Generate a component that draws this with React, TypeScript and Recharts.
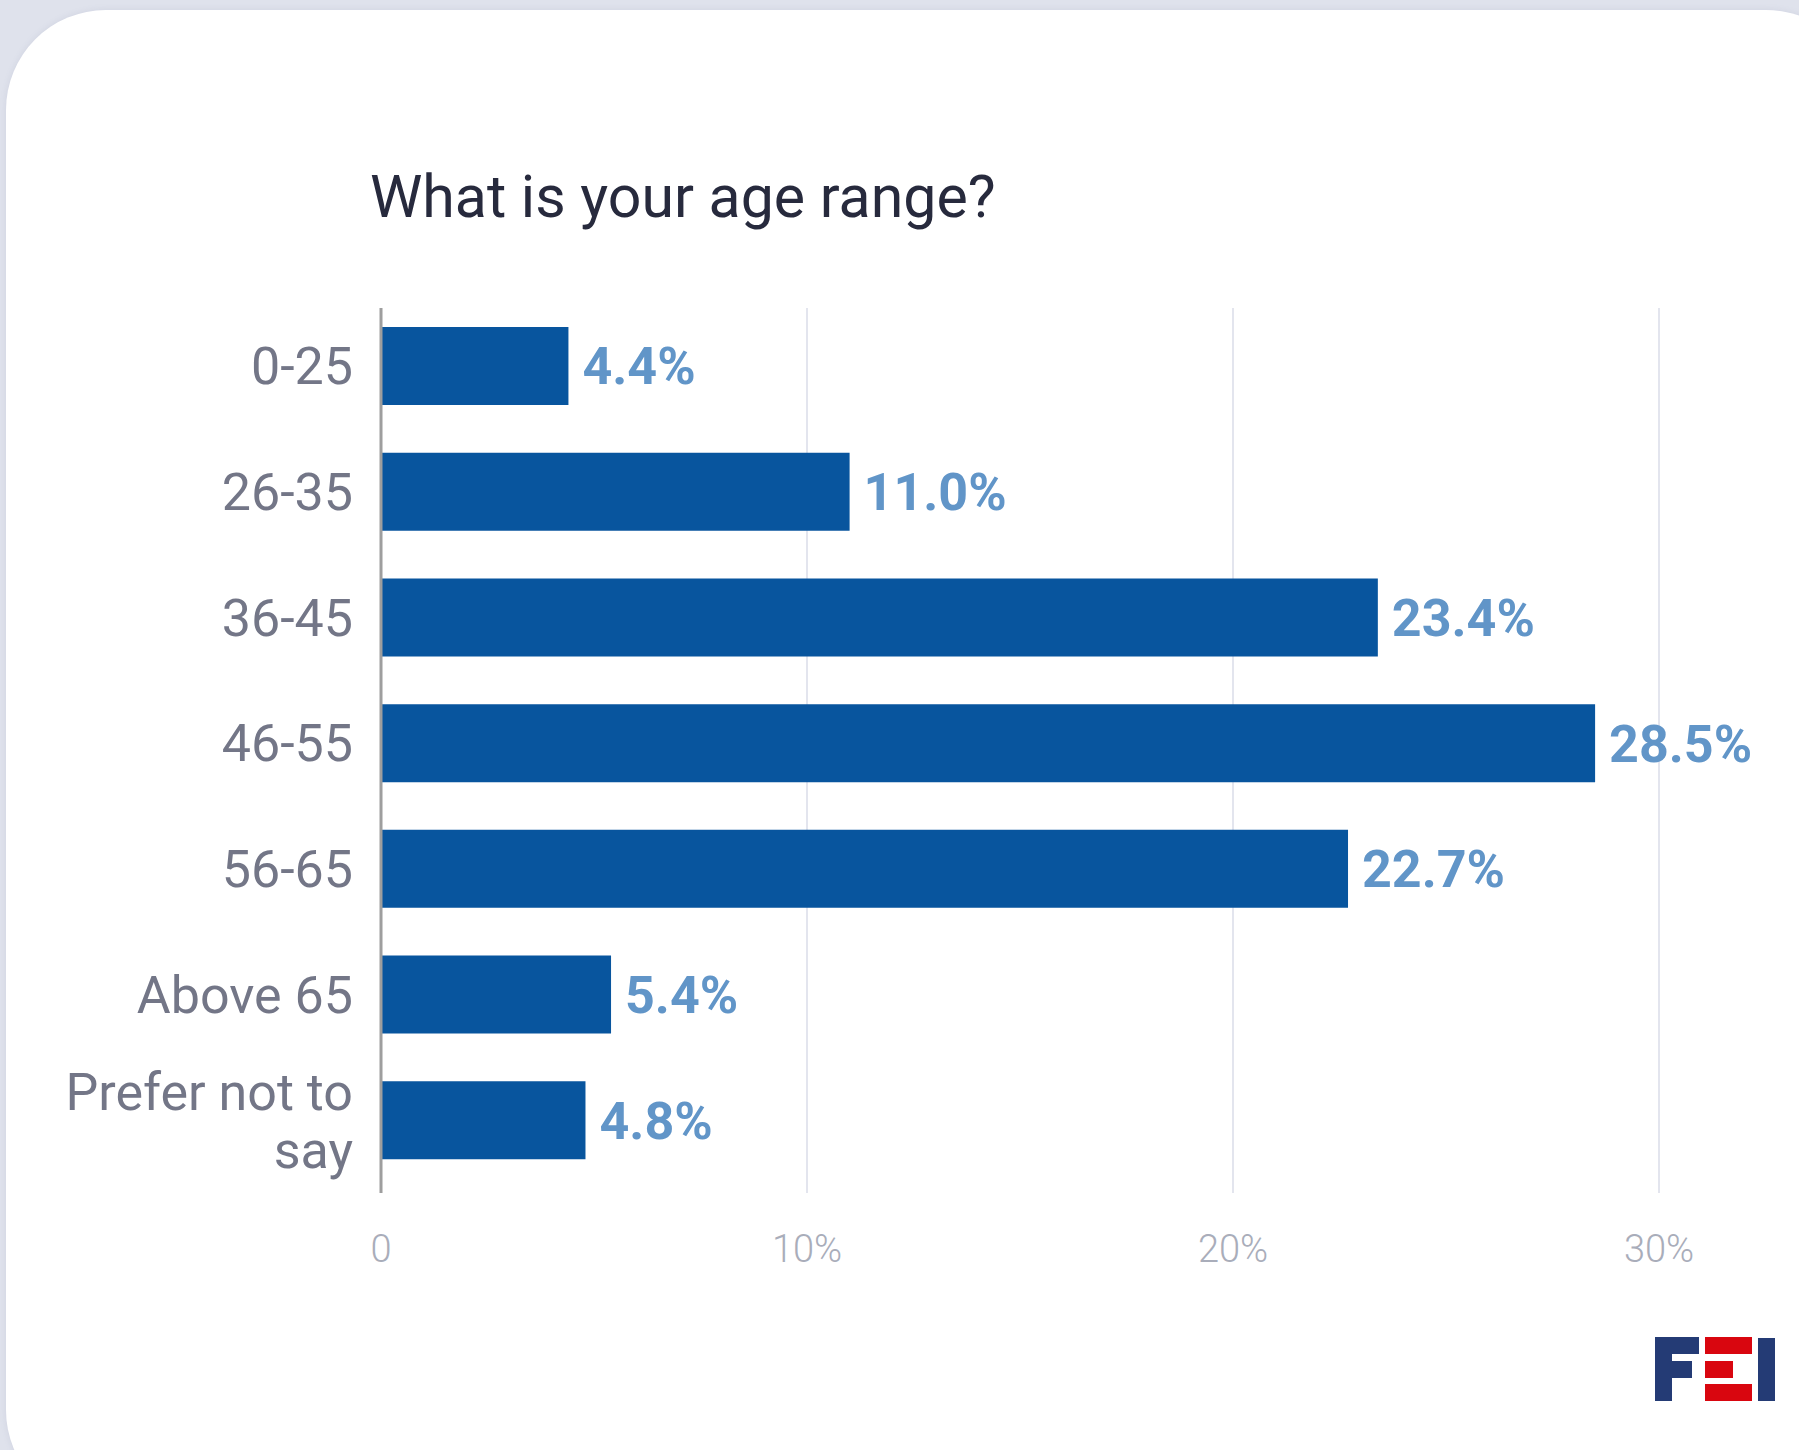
import { BarChart, Bar, XAxis, YAxis, CartesianGrid, LabelList } from 'recharts';

// age ranges and share of respondents (%)
const categories = ['0-25', '26-35', '36-45', '46-55', '56-65', 'Above 65', 'Prefer not to say'];
const shares = [4.4, 11.0, 23.4, 28.5, 22.7, 5.4, 4.8];
const xTicks = [0, 10, 20, 30];

const data = categories.map((name, i) => ({ name, share: shares[i] }));

// break long category names onto several lines
function wrap(label: string, max = 13) {
  const words = label.split(' ');
  const lines: string[] = [];
  let cur = '';
  for (const w of words) {
    const next = cur ? cur + ' ' + w : w;
    if (next.length > max && cur) {
      lines.push(cur);
      cur = w;
    } else {
      cur = next;
    }
  }
  if (cur) lines.push(cur);
  return lines;
}

function CategoryTick(props: any) {
  const { x, y, payload } = props;
  const lines = wrap(String(payload.value));
  const lh = 58;
  return (
    <g>
      {lines.map((line, i) => (
        <text
          key={i}
          x={x}
          y={y + (i - (lines.length - 1) / 2) * lh}
          dy="0.355em"
          textAnchor="end"
          fill="#737687"
          fontSize={52}
        >
          {line}
        </text>
      ))}
    </g>
  );
}

function Logo() {
  return (
    <svg width={122} height={66} style={{ position: 'absolute', left: 1654, top: 1336 }}>
      {/* F */}
      <rect x={1} y={1} width={17} height={64} fill="#243b75" />
      <rect x={1} y={1} width={44} height={17} fill="#243b75" />
      <rect x={1} y={25} width={37} height={17} fill="#243b75" />
      {/* E */}
      <rect x={51} y={1} width={47} height={17} fill="#d9060f" />
      <rect x={51} y={25} width={28} height={17} fill="#d9060f" />
      <rect x={51} y={48} width={47} height={17} fill="#d9060f" />
      {/* I */}
      <rect x={104} y={2} width={17} height={63} fill="#243b75" />
    </svg>
  );
}

export default function App() {
  return (
    <div
      style={{
        position: 'absolute',
        left: 0,
        top: 0,
        width: 1799,
        height: 1450,
        overflow: 'hidden',
        background: '#dfe2ec',
        fontFamily: 'Roboto, sans-serif',
      }}
    >
      <div
        style={{
          position: 'absolute',
          left: 6,
          top: 10,
          width: 1860,
          height: 1500,
          background: '#ffffff',
          borderRadius: 100,
          boxShadow: '0 0 6px rgba(120, 130, 160, 0.15)',
        }}
      />
      <div
        style={{
          position: 'absolute',
          left: 370,
          top: 167,
          fontSize: 59,
          lineHeight: '60px',
          color: '#272a3d',
          whiteSpace: 'nowrap',
        }}
      >
        What is your age range?
      </div>
      <div style={{ position: 'absolute', left: 0, top: 0 }}>
        <BarChart
          width={1799}
          height={1450}
          data={data}
          layout="vertical"
          margin={{ top: 308, right: 140, bottom: 157, left: 0 }}
        >
          <CartesianGrid horizontal={false} stroke="#e3e5ee" strokeWidth={2} />
          <XAxis
            type="number"
            domain={[0, 30]}
            ticks={xTicks}
            interval={0}
            height={100}
            axisLine={false}
            tickLine={false}
            tickMargin={36}
            tickFormatter={(v) => (v === 0 ? '0' : `${v}%`)}
            tick={{ fontSize: 38, fontWeight: 300, fill: '#a9adba' }}
          />
          <YAxis
            type="category"
            dataKey="name"
            width={381}
            padding={{ top: -5, bottom: 10 }}
            axisLine={{ stroke: '#9e9e9e', strokeWidth: 3 }}
            tickLine={false}
            tickMargin={22}
            interval={0}
            tick={<CategoryTick />}
          />
          <Bar dataKey="share" fill="#08559e" barSize={78} isAnimationActive={false}>
            <LabelList
              dataKey="share"
              position="right"
              offset={14}
              formatter={(v: any) => `${Number(v).toFixed(1)}%`}
              fill="#6195c8"
              fontSize={52}
              fontWeight={700}
            />
          </Bar>
        </BarChart>
      </div>
      <Logo />
    </div>
  );
}
